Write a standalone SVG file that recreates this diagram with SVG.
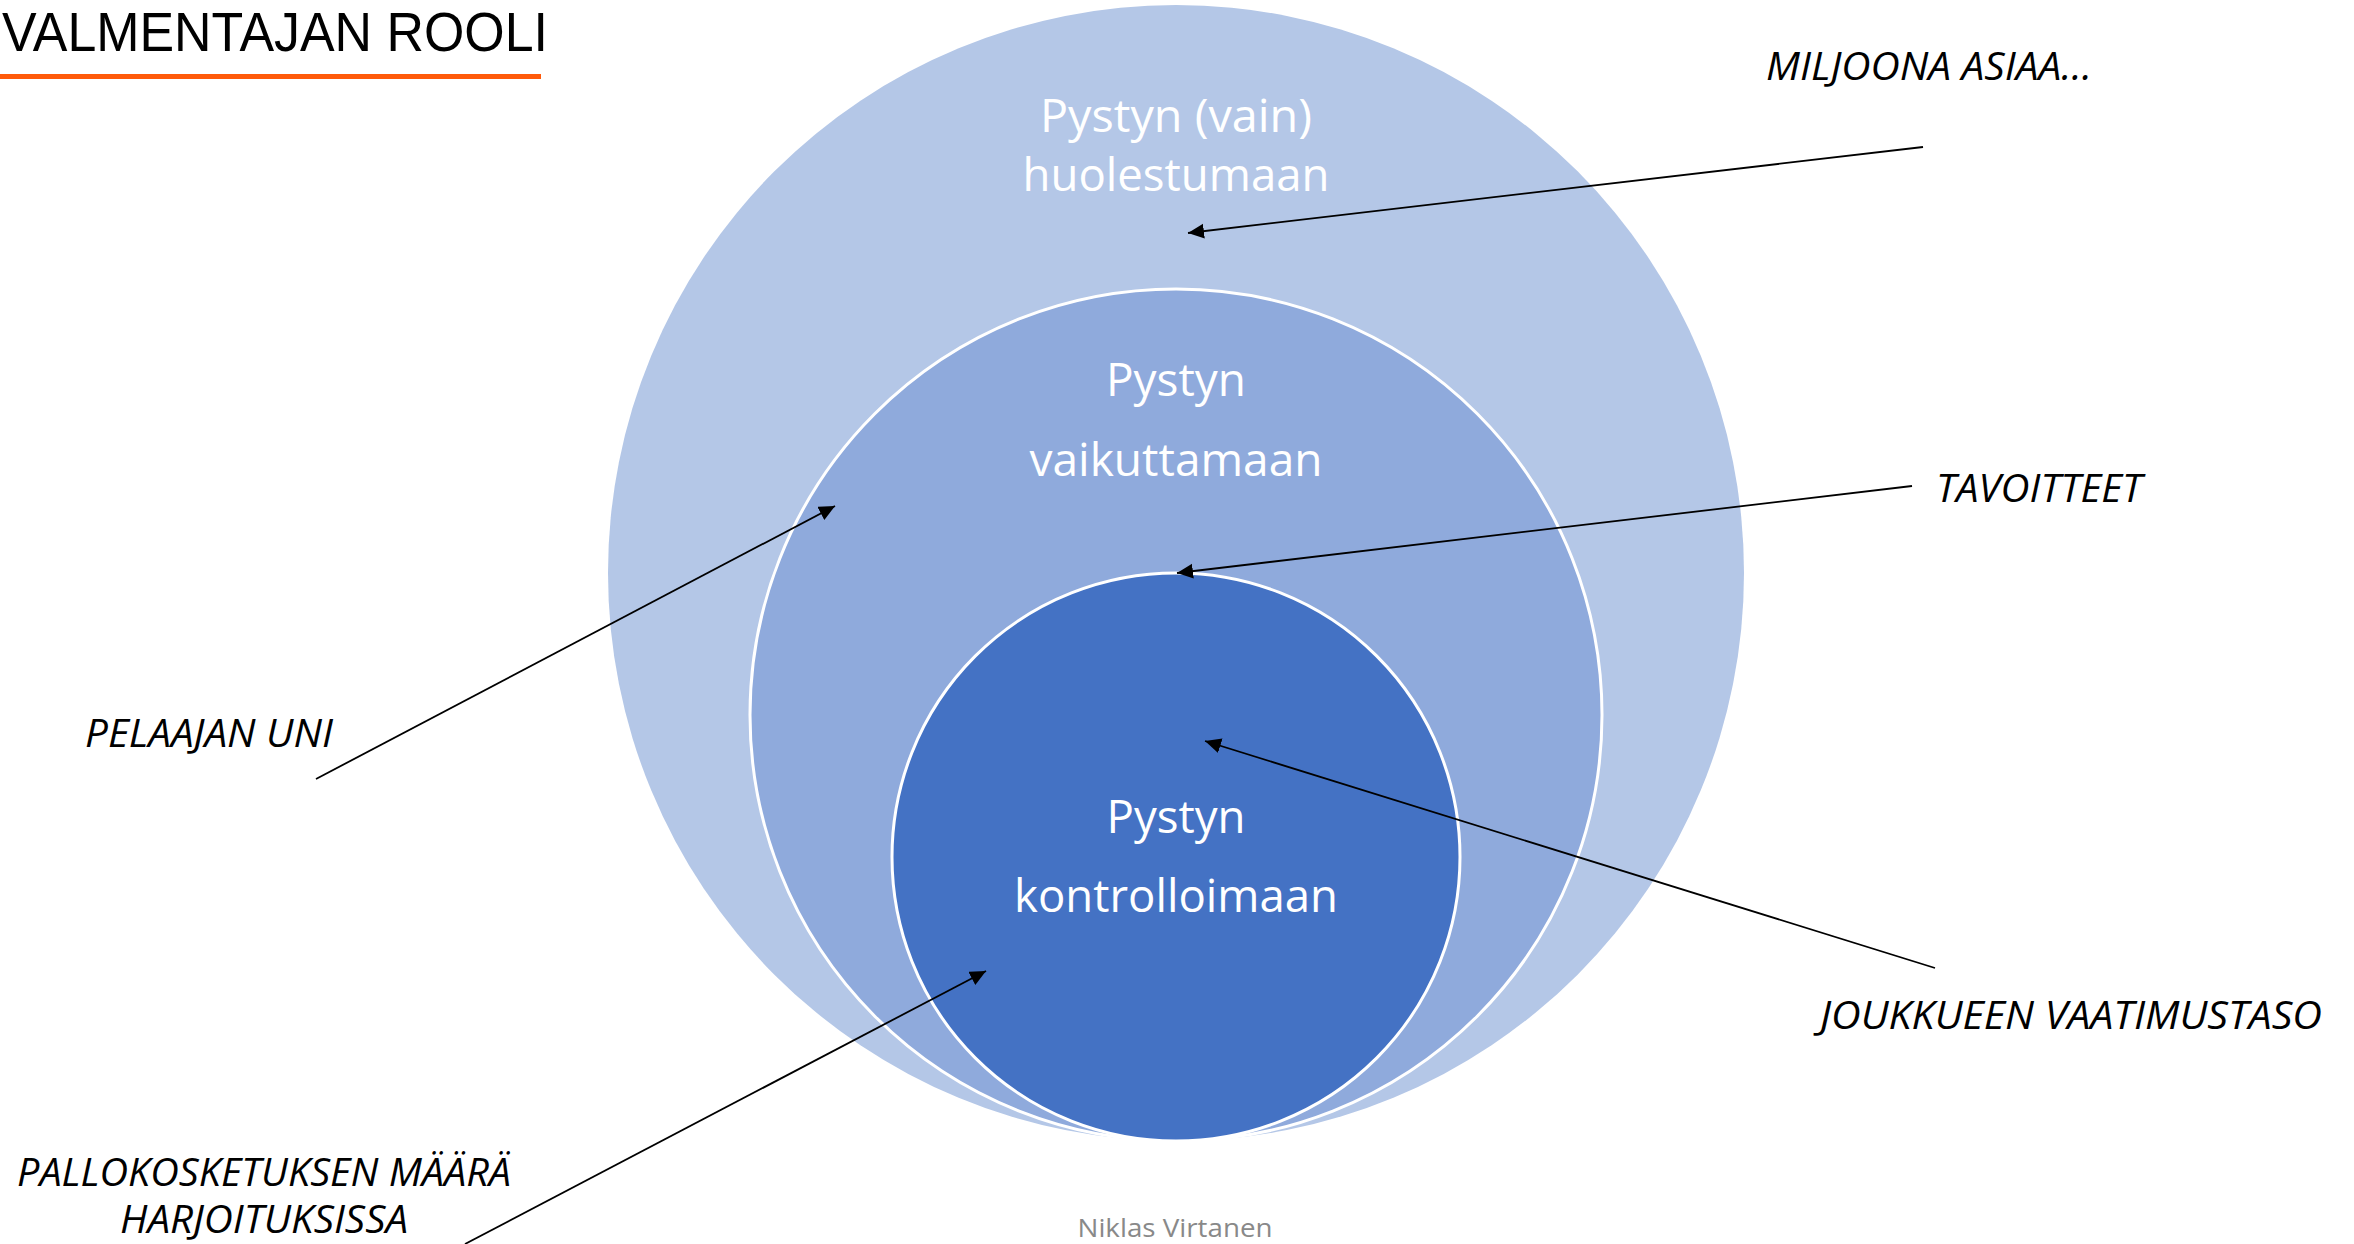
<svg xmlns="http://www.w3.org/2000/svg" width="2354" height="1244" viewBox="0 0 2354 1244">
<style>
.ct{font-family:"Open Sans","Liberation Sans",sans-serif;font-size:46px;fill:#ffffff;text-anchor:middle}
.lb{font-family:"Open Sans","Liberation Sans",sans-serif;font-size:38px;font-style:italic;fill:#000000}
.cn{stroke:#000000;stroke-width:1.8;fill:none;marker-end:url(#ah)}
</style>
<defs>
<marker id="ah" markerUnits="userSpaceOnUse" markerWidth="17" markerHeight="16" refX="16" refY="7.5" orient="auto">
<path d="M0,0 L16,7.5 L0,15 z" fill="#000000"/>
</marker>
</defs>
<rect width="2354" height="1244" fill="#ffffff"/>
<g id="title">
<text x="2" y="51" font-family="Liberation Sans, Arial, sans-serif" font-size="56" fill="#000000" textLength="546" lengthAdjust="spacingAndGlyphs">VALMENTAJAN ROOLI</text>
<rect x="0" y="74" width="541" height="5" fill="#FF5A0A"/>
</g>
<g id="outer">
<circle cx="1176" cy="573" r="568" fill="#B4C7E7"/>
<text class="ct" x="1176" y="132" textLength="272" lengthAdjust="spacingAndGlyphs">Pystyn (vain)</text>
<text class="ct" x="1176" y="191" textLength="307" lengthAdjust="spacingAndGlyphs">huolestumaan</text>
</g>
<g id="middle">
<circle cx="1176" cy="715" r="426" fill="#8FAADC" stroke="#ffffff" stroke-width="3"/>
<text class="ct" x="1176" y="396" textLength="140" lengthAdjust="spacingAndGlyphs">Pystyn</text>
<text class="ct" x="1176" y="476" textLength="293" lengthAdjust="spacingAndGlyphs">vaikuttamaan</text>
</g>
<g id="inner">
<circle cx="1176" cy="857" r="284" fill="#4472C4" stroke="#ffffff" stroke-width="3"/>
<text class="ct" x="1176" y="833" textLength="139" lengthAdjust="spacingAndGlyphs">Pystyn</text>
<text class="ct" x="1176" y="912" textLength="324" lengthAdjust="spacingAndGlyphs">kontrolloimaan</text>
</g>
<g id="label-miljoona">
<text class="lb" x="1766" y="80" textLength="326" lengthAdjust="spacingAndGlyphs">MILJOONA ASIAA…</text>
</g>
<g id="label-tavoitteet">
<text class="lb" x="1936" y="502" textLength="206" lengthAdjust="spacingAndGlyphs">TAVOITTEET</text>
</g>
<g id="label-joukkue">
<text class="lb" x="1820" y="1029" textLength="502" lengthAdjust="spacingAndGlyphs">JOUKKUEEN VAATIMUSTASO</text>
</g>
<g id="label-pelaaja">
<text class="lb" x="85" y="747" textLength="248" lengthAdjust="spacingAndGlyphs">PELAAJAN UNI</text>
</g>
<g id="label-pallo">
<text class="lb" x="17" y="1186" textLength="494" lengthAdjust="spacingAndGlyphs">PALLOKOSKETUKSEN MÄÄRÄ</text>
<text class="lb" x="120" y="1233" textLength="288" lengthAdjust="spacingAndGlyphs">HARJOITUKSISSA</text>
</g>
<g id="footer">
<text x="1175" y="1237" font-family="Open Sans, Liberation Sans, sans-serif" font-size="25" fill="#898989" text-anchor="middle" textLength="195" lengthAdjust="spacingAndGlyphs">Niklas Virtanen</text>
</g>
<g id="connectors">
<line class="cn" x1="1923" y1="147" x2="1188" y2="233"/>
<line class="cn" x1="1912" y1="486" x2="1177" y2="573"/>
<line class="cn" x1="1935" y1="968" x2="1205" y2="741"/>
<line class="cn" x1="316" y1="779" x2="835" y2="506"/>
<line class="cn" x1="465" y1="1244" x2="986" y2="971"/>
</g>
</svg>
